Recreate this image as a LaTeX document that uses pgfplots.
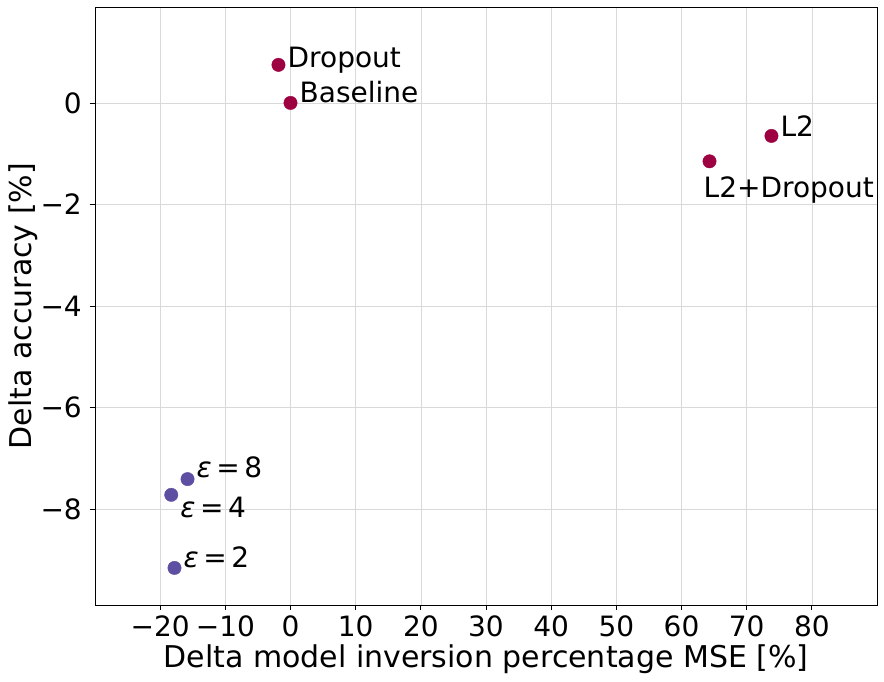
\documentclass[border=0pt]{standalone}
\usepackage{pgfplots}
\pgfplotsset{compat=1.18}
\usepackage{pgfplotstable}
\usepackage{fontspec}
\setmainfont{DejaVu Sans}
\usetikzlibrary{calc}
\definecolor{dred}{HTML}{9E0142}
\definecolor{dpurple}{HTML}{5E4FA2}
\newcommand{\eps}[1]{{\itshape ε}\hspace{0.16em}=\hspace{0.16em}#1}

% x, y, label, label shift (pt)
\pgfplotstableread[col sep=comma]{
x,y,label,dx,dy
-1.85,0.75,Dropout,9,-3
0,0,Baseline,9,0
73.8,-0.65,L2,9,-1
64.3,-1.15,L2+Dropout,-6,-36
}\regtab
\pgfplotstableread[col sep=comma]{
x,y,label,dx,dy
-15.8,-7.41,{\eps{8}},9,2
-18.3,-7.72,{\eps{4}},9,-23
-17.8,-9.16,{\eps{2}},9,0
}\dptab

\begin{document}
\begin{tikzpicture}
\begin{axis}[
  scale only axis,
  width=782pt, height=598pt,
  xmin=-30, xmax=90, ymin=-9.89, ymax=1.89,
  xtick={-20,-10,0,10,20,30,40,50,60,70,80},
  xticklabels={−20,−10,0,10,20,30,40,50,60,70,80},
  ytick={-8,-6,-4,-2,0},
  yticklabels={−8,−6,−4,−2,0},
  tick label style={font=\fontsize{28}{33}\selectfont},
  xticklabel style={inner sep=0pt, yshift=-6pt},
  yticklabel style={inner sep=0pt, xshift=-8pt},
  tick align=outside, xtick pos=left, ytick pos=left,
  major tick length=5pt,
  grid=major,
  grid style={line width=0.6pt, draw=black!15},
  axis line style={line width=0.8pt},
  tick style={line width=0.8pt, black},
  xlabel={Delta model inversion percentage MSE [\%]},
  ylabel={Delta accuracy [\%]},
  label style={font=\fontsize{30}{35}\selectfont, inner sep=0pt},
  xlabel style={at={(axis description cs:0.5,-0.1037)}, anchor=base},
  ylabel style={at={(axis description cs:-0.0806,0.5)}, anchor=base, rotate=0},
  axis on top,
  clip=false,
  every node near coord/.append style={
    anchor=base west, inner sep=0pt, black, font=\fontsize{28}{33}\selectfont,
    xshift=\labdx pt, yshift=\labdy pt},
  visualization depends on={\thisrow{dx}\as\labdx},
  visualization depends on={\thisrow{dy}\as\labdy},
]
\addplot[only marks, mark=*, mark size=6.7pt, mark options={draw=dred, fill=dred},
  nodes near coords, point meta=explicit symbolic]
  table[x=x, y=y, meta=label] {\regtab};
\addplot[only marks, mark=*, mark size=6.7pt, mark options={draw=dpurple, fill=dpurple},
  nodes near coords, point meta=explicit symbolic]
  table[x=x, y=y, meta=label] {\dptab};
\end{axis}
\path ($(current axis.south west)+(-95pt,-76pt)$) rectangle ($(current axis.north east)+(7pt,7pt)$);
\end{tikzpicture}
\end{document}
